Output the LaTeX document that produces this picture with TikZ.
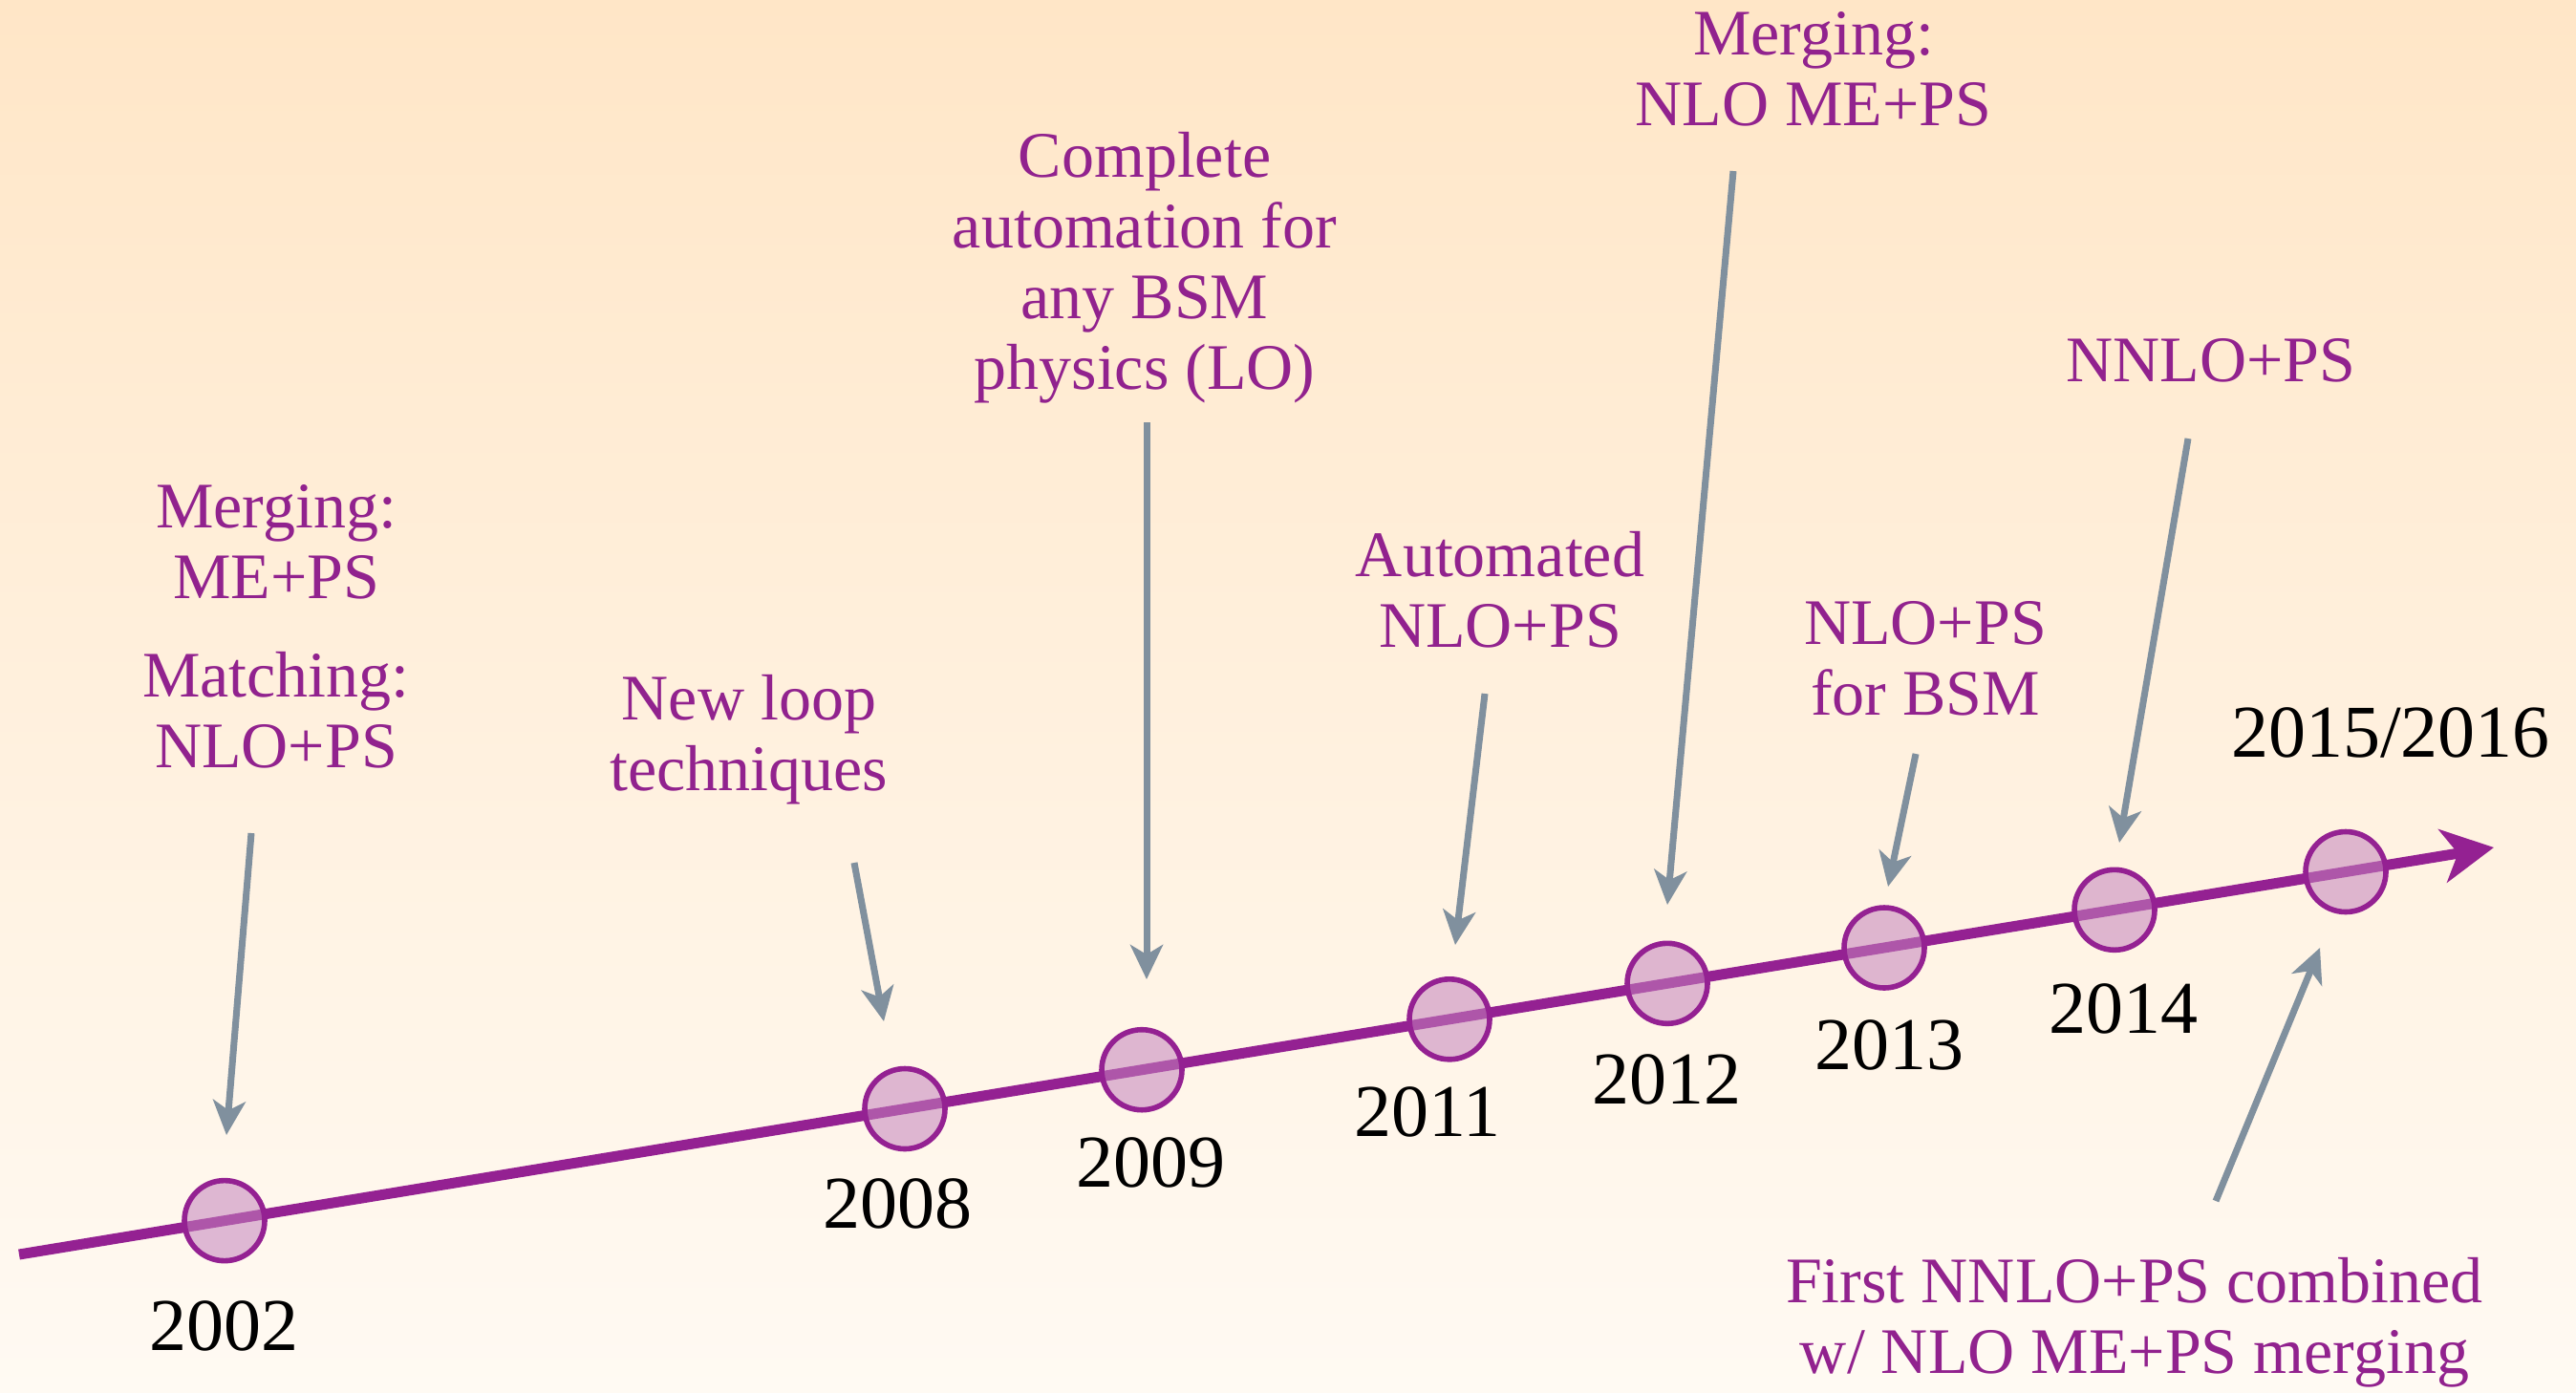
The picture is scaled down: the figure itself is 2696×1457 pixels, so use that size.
\documentclass[tikz,border=0pt]{standalone}
\usepackage{fontspec}
\setmainfont{Liberation Serif}
\usetikzlibrary{arrows.meta}
\definecolor{bgtop}{RGB}{255,230,199}
\definecolor{bgbot}{RGB}{255,250,243}
\definecolor{tl}{RGB}{148,33,146}
\definecolor{lab}{RGB}{145,34,142}
\definecolor{cfill}{RGB}{196,131,189}
\definecolor{gry}{RGB}{128,144,158}
\begin{document}
\begin{tikzpicture}[x=0.5pt,y=-0.5pt,
  timeline/.style={line width=5.5pt, draw=tl, -{Stealth[length=27pt,width=28pt,inset=8pt]}},
  yearnode/.style={circle, draw=tl, line width=2.8pt, fill=cfill, fill opacity=0.55, minimum size=42pt, inner sep=0pt},
  ptr/.style={draw=gry, line width=3.5pt, -{Stealth[length=18pt,width=17pt,inset=5pt]}},
  evlabel/.style={text=lab, font=\fontsize{34}{37}\selectfont, align=center, inner sep=0pt},
  yr/.style={text=black, font=\fontsize{39}{42}\selectfont, inner sep=0pt}]
\useasboundingbox (0,0) rectangle (2696,1457);
\shade[top color=bgtop, bottom color=bgbot] (0,0) rectangle (2696,1457);

% timeline
\coordinate (tls) at (20,1313);
\coordinate (tle) at (2610,887);
\draw[timeline] (tls) -- (tle);

% year circles
\node[yearnode] (c2002) at (235,1277.6) {};
\node[yearnode] (c2008) at (947,1160.5) {};
\node[yearnode] (c2009) at (1195,1119.7) {};
\node[yearnode] (c2011) at (1517,1066.8) {};
\node[yearnode] (c2012) at (1745,1029.3) {};
\node[yearnode] (c2013) at (1972,992) {};
\node[yearnode] (c2014) at (2213,952.3) {};
\node[yearnode] (c2015) at (2455,912.5) {};

% year labels
\node[yr] (y2002) at (234,1388) {2002};
\node[yr] (y2008) at (939,1260) {2008};
\node[yr] (y2009) at (1204,1217) {2009};
\node[yr] (y2011) at (1494,1164) {2011};
\node[yr] (y2012) at (1744,1130) {2012};
\node[yr] (y2013) at (1977,1094) {2013};
\node[yr] (y2014) at (2222,1056) {2014};
\node[yr] (y2015) at (2502,767) {2015/2016};

% event labels
\node[evlabel] (lmerge) at (289,567) {Merging:\\ME+PS};
\node[evlabel] (lmatch) at (289,743) {Matching:\\NLO+PS};
\node[evlabel] (lloop) at (784,774) {New loop\\techniques};
\node[evlabel] (lbsm) at (1198,280) {Complete\\automation for\\any BSM\\physics (LO)};
\node[evlabel] (lauto) at (1570,617) {Automated\\NLO+PS};
\node[evlabel] (lnlome) at (1898,72) {Merging:\\NLO ME+PS};
\node[evlabel] (lnlobsm) at (2015,689) {NLO+PS\\for BSM};
\node[evlabel] (lnnlo) at (2314,377) {NNLO+PS};
\node[evlabel] (lfirst) at (2234,1384) {First NNLO+PS combined\\w/ NLO ME+PS merging};

% pointer arrows
\coordinate (a1) at (263,872);   \coordinate (t1) at (237,1188);
\coordinate (a2) at (894,903);   \coordinate (t2) at (925,1069);
\coordinate (a3) at (1200,442);  \coordinate (t3) at (1200,1025);
\coordinate (a4) at (1554,726);  \coordinate (t4) at (1523,989);
\coordinate (a5) at (1814,179);  \coordinate (t5) at (1745,947);
\coordinate (a6) at (2005,789);  \coordinate (t6) at (1976,928);
\coordinate (a7) at (2290,459);  \coordinate (t7) at (2218,882);
\coordinate (a8) at (2319,1257); \coordinate (t8) at (2428,992);
\draw[ptr] (a1) -- (t1);
\draw[ptr] (a2) -- (t2);
\draw[ptr] (a3) -- (t3);
\draw[ptr] (a4) -- (t4);
\draw[ptr] (a5) -- (t5);
\draw[ptr] (a6) -- (t6);
\draw[ptr] (a7) -- (t7);
\draw[ptr] (a8) -- (t8);
\end{tikzpicture}
\end{document}
